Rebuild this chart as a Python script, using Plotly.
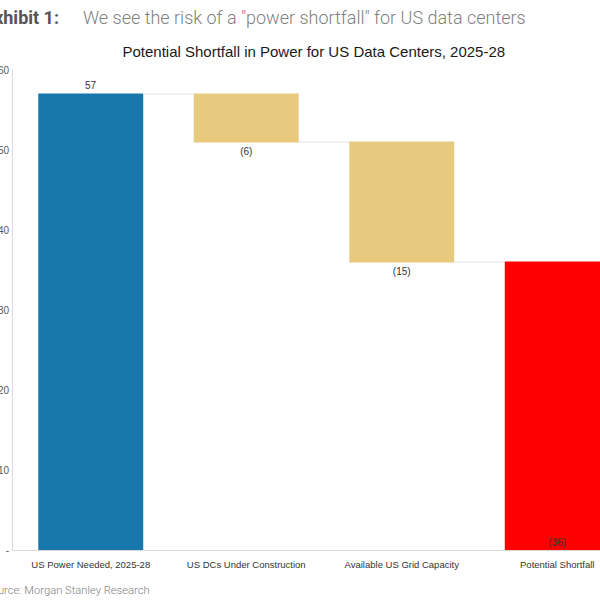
import plotly.graph_objects as go

# data (GW)
categories = ["US Power Needed, 2025-28", "US DCs Under Construction",
              "Available US Grid Capacity", "Potential Shortfall"]
values = [57, -6, -15, 36]
measures = ["relative", "relative", "relative", "total"]
labels = ["57", "(6)", "(15)", "(36)"]
y_ticks = [0, 10, 20, 30, 40, 50, 60]
y_tick_labels = ["-", "10", "20", "30", "40", "50", "60"]

BLUE = "#1777ad"
GOLD = "#e8ca7f"
RED = "#ff0000"
CHART_FONT = "Liberation Sans, Arial, sans-serif"


def main() -> None:
    fig = go.Figure()
    fig.add_trace(go.Waterfall(
        x=categories,
        y=values,
        measure=measures,
        text=labels,
        textposition=["outside", "outside", "outside", "inside"],
        insidetextanchor="start",
        textfont=dict(family=CHART_FONT, size=10, color="#333333"),
        insidetextfont=dict(family=CHART_FONT, size=10, color="#333333"),
        outsidetextfont=dict(family=CHART_FONT, size=10, color="#333333"),
        increasing=dict(marker=dict(color=BLUE)),
        decreasing=dict(marker=dict(color=GOLD)),
        totals=dict(marker=dict(color=RED)),
        connector=dict(line=dict(color="#e3e3e3", width=1)),
        showlegend=False,
        cliponaxis=False,
    ))

    fig.update_layout(
        width=600,
        height=600,
        margin=dict(l=13, r=0, t=70, b=50, autoexpand=False),
        paper_bgcolor="white",
        plot_bgcolor="white",
        waterfallgap=0.325,
        font=dict(family=CHART_FONT, size=10, color="#404040"),
        title=dict(
            text="Potential Shortfall in Power for US Data Centers, 2025-28",
            x=0.523, xanchor="center", y=0.913, yanchor="middle",
            font=dict(family=CHART_FONT, size=15, color="#1a1a1a"),
        ),
    )

    fig.update_xaxes(
        range=[-0.5, 3.275],
        automargin=False,
        showline=True, linecolor="#d9d9d9", linewidth=1,
        showgrid=False, ticks="",
        ticklabelstandoff=6,
        tickfont=dict(family=CHART_FONT, size=9.5, color="#333333"),
    )
    fig.update_yaxes(
        range=[0, 60],
        automargin=False,
        tickvals=y_ticks, ticktext=y_tick_labels,
        showline=True, linecolor="#d9d9d9", linewidth=1,
        showgrid=False, zeroline=False, ticks="",
        ticklabelstandoff=1,
        tickfont=dict(family=CHART_FONT, size=10, color="#595959"),
    )

    # page header and source, as in the report exhibit
    fig.add_annotation(
        text="<b>Exhibit 1:</b>", xref="paper", yref="paper",
        x=0.0818, y=1.110, xanchor="right", yanchor="middle", showarrow=False,
        font=dict(family="Roboto", size=18, color="#555555"),
    )
    fig.add_annotation(
        text='We see the risk of a "power shortfall" for US data centers',
        xref="paper", yref="paper",
        x=0.1158, y=1.110, xanchor="left", yanchor="middle", showarrow=False,
        font=dict(family="Roboto", size=18, color="#808080", weight=300),
    )
    fig.add_annotation(
        text="Source: Morgan Stanley Research", xref="paper", yref="paper",
        x=0.2368, y=-0.0854, xanchor="right", yanchor="middle", showarrow=False,
        font=dict(family="Roboto", size=11.2, color="#808080", weight=300),
    )

    # page has a default 8px body margin; drop it so the figure sits at 0,0
    fig.write_html("out.html", config={"displayModeBar": False},
                   post_script="document.body.style.margin='0';")


if __name__ == "__main__":
    main()
